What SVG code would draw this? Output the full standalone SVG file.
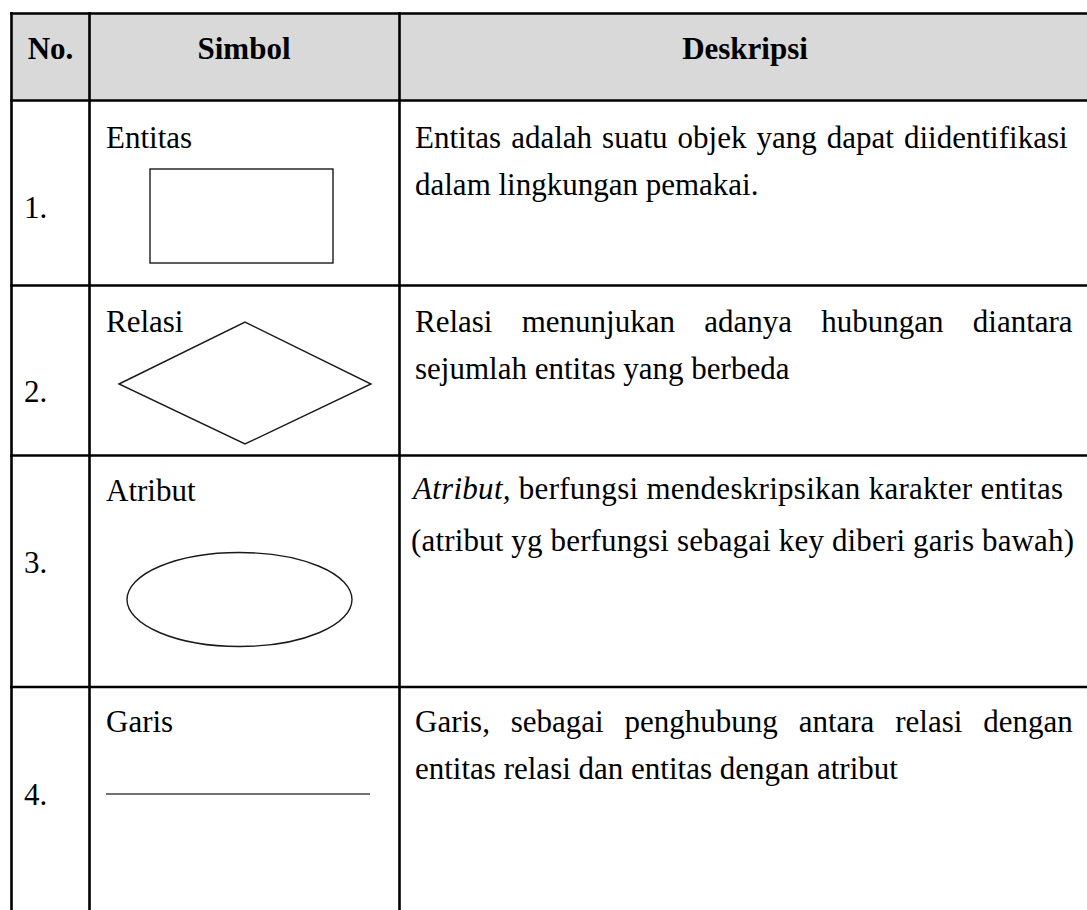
<svg xmlns="http://www.w3.org/2000/svg" width="1087" height="910" viewBox="0 0 1087 910">
  <style>
    .t { font-family: "Liberation Serif", "Times New Roman", serif; font-size: 31px; fill: #000; }
    .h { font-family: "Liberation Serif", "Times New Roman", serif; font-size: 31px; font-weight: bold; fill: #000; }
    .grid { stroke: #000; stroke-width: 2.6; fill: none; }
    .shape { stroke: #1a1a1a; stroke-width: 1.4; fill: #fff; }
  </style>
  <rect width="1087" height="910" fill="#fff"/>
  <g id="header">
    <rect x="11.5" y="13.5" width="1090" height="87" fill="#d9d9d9"/>
    <text class="h" x="50.5" y="59" text-anchor="middle">No.</text>
    <text class="h" x="244" y="59" text-anchor="middle">Simbol</text>
    <text class="h" x="745" y="59" text-anchor="middle">Deskripsi</text>
  </g>
  <g id="grid">
    <line class="grid" x1="10" y1="13.5" x2="1087" y2="13.5"/>
    <line class="grid" x1="10" y1="100.5" x2="1087" y2="100.5"/>
    <line class="grid" x1="10" y1="285.5" x2="1087" y2="285.5"/>
    <line class="grid" x1="10" y1="455.5" x2="1087" y2="455.5"/>
    <line class="grid" x1="10" y1="687" x2="1087" y2="687"/>
    <line class="grid" x1="11.5" y1="12" x2="11.5" y2="910"/>
    <line class="grid" x1="89.5" y1="12" x2="89.5" y2="910"/>
    <line class="grid" x1="399.5" y1="12" x2="399.5" y2="910"/>
  </g>
  <g id="row1">
    <text class="t" x="24" y="218">1.</text>
    <text class="t" x="106" y="148">Entitas</text>
    <rect class="shape" x="150" y="169" width="183" height="94"/>
    <text class="t" x="415" y="148" word-spacing="2.3">Entitas adalah suatu objek yang dapat diidentifikasi</text>
    <text class="t" x="415" y="195">dalam lingkungan pemakai.</text>
  </g>
  <g id="row2">
    <text class="t" x="24" y="402">2.</text>
    <text class="t" x="106" y="332">Relasi</text>
    <polygon class="shape" points="119,384 245,322 371,384 245,444"/>
    <text class="t" x="415" y="332" word-spacing="21.5">Relasi menunjukan adanya hubungan diantara</text>
    <text class="t" x="415" y="379">sejumlah entitas yang berbeda</text>
  </g>
  <g id="row3">
    <text class="t" x="24" y="573">3.</text>
    <text class="t" x="106" y="501">Atribut</text>
    <ellipse class="shape" cx="239.5" cy="599.5" rx="112.5" ry="47"/>
    <text class="t" x="413" y="499" textLength="650" lengthAdjust="spacing"><tspan font-style="italic">Atribut,</tspan> berfungsi mendeskripsikan karakter entitas</text>
    <text class="t" x="411" y="551" textLength="663" lengthAdjust="spacing">(atribut yg berfungsi sebagai key diberi garis bawah)</text>
  </g>
  <g id="row4">
    <text class="t" x="24" y="805">4.</text>
    <text class="t" x="106" y="732">Garis</text>
    <line x1="106" y1="794" x2="370" y2="794" stroke="#444" stroke-width="1.4"/>
    <text class="t" x="415" y="732" word-spacing="13.1">Garis, sebagai penghubung antara relasi dengan</text>
    <text class="t" x="415" y="779">entitas relasi dan entitas dengan atribut</text>
  </g>
  <g id="connectors"/>
</svg>
